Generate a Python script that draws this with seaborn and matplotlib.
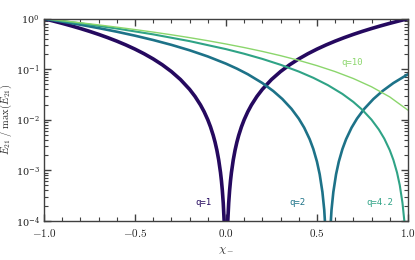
import numpy as np
import pandas as pd
import matplotlib
matplotlib.use("Agg")
import matplotlib.pyplot as plt
import seaborn as sns
from matplotlib.ticker import MultipleLocator, FuncFormatter, LogLocator

# ---- data ----
chi_q1 = [-1.0, -0.95, -0.9, -0.85, -0.8, -0.75, -0.7, -0.65, -0.6, -0.55, -0.5, -0.45, -0.4, -0.35, -0.3, -0.25, -0.2,
          -0.17, -0.14, -0.12, -0.1, -0.085, -0.07, -0.06, -0.05, -0.04, -0.03, -0.025, -0.02, -0.015, -0.01, -0.005, 0.0,
          0.005, 0.01, 0.015, 0.02, 0.025, 0.03, 0.04, 0.05, 0.06, 0.07, 0.085, 0.1, 0.12, 0.14, 0.17, 0.2,
          0.25, 0.3, 0.35, 0.4, 0.45, 0.5, 0.55, 0.6, 0.65, 0.7, 0.75, 0.8, 0.85, 0.9, 0.95, 1.0]
e_q1 = [1.0, 0.9025, 0.81, 0.7225, 0.64, 0.5625, 0.49, 0.4225, 0.36, 0.3025, 0.25, 0.2025, 0.16, 0.1225, 0.09, 0.0625, 0.04,
        0.0289, 0.0196, 0.0144, 0.01, 0.007225, 0.0049, 0.0036, 0.0025, 0.0016, 0.0009, 0.000625, 0.0004, 0.000225, 0.0001, 2.5e-5, 0.0,
        2.5e-5, 0.0001, 0.000225, 0.0004, 0.000625, 0.0009, 0.0016, 0.0025, 0.0036, 0.0049, 0.007225, 0.01, 0.0144, 0.0196, 0.0289, 0.04,
        0.0625, 0.09, 0.1225, 0.16, 0.2025, 0.25, 0.3025, 0.36, 0.4225, 0.49, 0.5625, 0.64, 0.7225, 0.81, 0.9025, 1.0]

chi_q2 = [-1.0, -0.9, -0.8, -0.7, -0.6, -0.5, -0.4, -0.3, -0.2, -0.1, 0.0, 0.06, 0.12, 0.2, 0.26, 0.31, 0.36, 0.40, 0.43,
          0.46, 0.48, 0.5, 0.515, 0.53, 0.54, 0.55, 0.56,
          0.57, 0.58, 0.59, 0.605, 0.62, 0.64, 0.66, 0.69, 0.72, 0.76, 0.81, 0.86, 0.92, 1.0]
e_q2 = [1.0, 0.87591, 0.76003, 0.65237, 0.55292, 0.4617, 0.3787, 0.30391, 0.23734, 0.17899, 0.12886, 0.10273, 0.079553,
        0.053254, 0.036982, 0.025682, 0.016437, 0.010519, 0.006944, 0.004109, 0.00263, 0.001479, 0.0008321, 0.0003698,
        0.0001644, 4.109e-5, 0.0,
        4.109e-5, 0.0001644, 0.0003698, 0.0008321, 0.001479, 0.00263, 0.004109, 0.006944, 0.010519, 0.016437, 0.025682,
        0.036982, 0.053254, 0.079553]

chi_q42 = [-1.0, -0.8, -0.6, -0.4, -0.2, 0.0, 0.1, 0.2, 0.3, 0.4, 0.48, 0.56, 0.64, 0.7, 0.75, 0.8, 0.84, 0.87, 0.9, 0.92,
           0.94, 0.955, 0.97, 0.98, 0.99, 1.0]
e_q42 = [1.0, 0.81, 0.64, 0.49, 0.36, 0.25, 0.2025, 0.16, 0.1225, 0.09, 0.0676, 0.0484, 0.0324, 0.0225, 0.015625, 0.01,
         0.0064, 0.004225, 0.0025, 0.0016, 0.0009, 0.00050625, 0.000225, 0.0001, 2.5e-5, 0.0]

chi_q10 = [-1.0, -0.9, -0.8, -0.7, -0.6, -0.5, -0.4, -0.3, -0.2, -0.1, 0.0, 0.1, 0.2, 0.3, 0.4, 0.5, 0.6, 0.7, 0.8, 0.9, 1.0]
e_q10 = [1.0, 0.9143, 0.8325, 0.7546, 0.6804, 0.6101, 0.5436, 0.481, 0.4222, 0.3672, 0.316, 0.2687, 0.2253, 0.1856, 0.1498,
         0.1178, 0.0897, 0.0654, 0.0449, 0.02827, 0.01546]

labels = ["q=1", "q=2", "q=4.2", "q=10"]
label_x = [-0.125, 0.395, 0.846, 0.695]
label_y = [2.3e-4, 2.3e-4, 2.3e-4, 0.135]

colors = ["#25095f", "#1d7288", "#2fa386", "#8bd66c"]
widths = [2.6, 1.9, 1.5, 1.0]

sns.set_style("ticks")
plt.rcParams.update({
    "font.family": "serif",
    "font.serif": ["DejaVu Serif"],
    "mathtext.fontset": "cm",
    "axes.edgecolor": "#404040",
    "xtick.color": "#404040",
    "ytick.color": "#404040",
    "xtick.labelcolor": "#222222",
    "ytick.labelcolor": "#222222",
})

fig = plt.figure(figsize=(4.15, 2.6), dpi=100)
ax = fig.add_axes([0.106, 0.151, 0.877, 0.777])

series = [(chi_q1, e_q1), (chi_q2, e_q2), (chi_q42, e_q42), (chi_q10, e_q10)]
for (xs, ys), c, w in zip(series, colors, widths):
    df = pd.DataFrame({"chi": xs, "E": ys})
    sns.lineplot(data=df, x="chi", y="E", ax=ax, color=c, linewidth=w, sort=False, estimator=None)

ax.set_yscale("log")
ax.set_xlim(-1.0, 1.0)
ax.set_ylim(1e-4, 1.0)

for lab, lx, ly, c in zip(labels, label_x, label_y, colors):
    ax.text(lx, ly, lab, color=c, fontsize=6.5, family="DejaVu Sans Mono", ha="center", va="center")

ax.xaxis.set_major_locator(MultipleLocator(0.5))
ax.xaxis.set_minor_locator(MultipleLocator(0.1))
ax.xaxis.set_major_formatter(FuncFormatter(lambda v, p: r"$%.1f$" % v))
ax.yaxis.set_major_locator(LogLocator(base=10, numticks=10))
ax.yaxis.set_minor_locator(LogLocator(base=10, subs=np.arange(2, 10), numticks=20))

ax.tick_params(which="both", direction="in", top=True, right=True, width=1.0)
ax.tick_params(axis="x", labelsize=8, pad=4.5)
ax.tick_params(axis="y", labelsize=7, pad=3)
ax.tick_params(which="major", length=5)
ax.tick_params(which="minor", length=2.8, width=0.8)
for s in ax.spines.values():
    s.set_linewidth(1.0)

ax.set_xlabel(r"$\chi_-$", fontsize=8.5, labelpad=3)
ax.set_ylabel(r"$E_{21}\ /\ \mathrm{max}(E_{21})$", fontsize=7.5)
ax.yaxis.set_label_coords(-0.083, 0.5)

fig.savefig("out.png", dpi=100)
